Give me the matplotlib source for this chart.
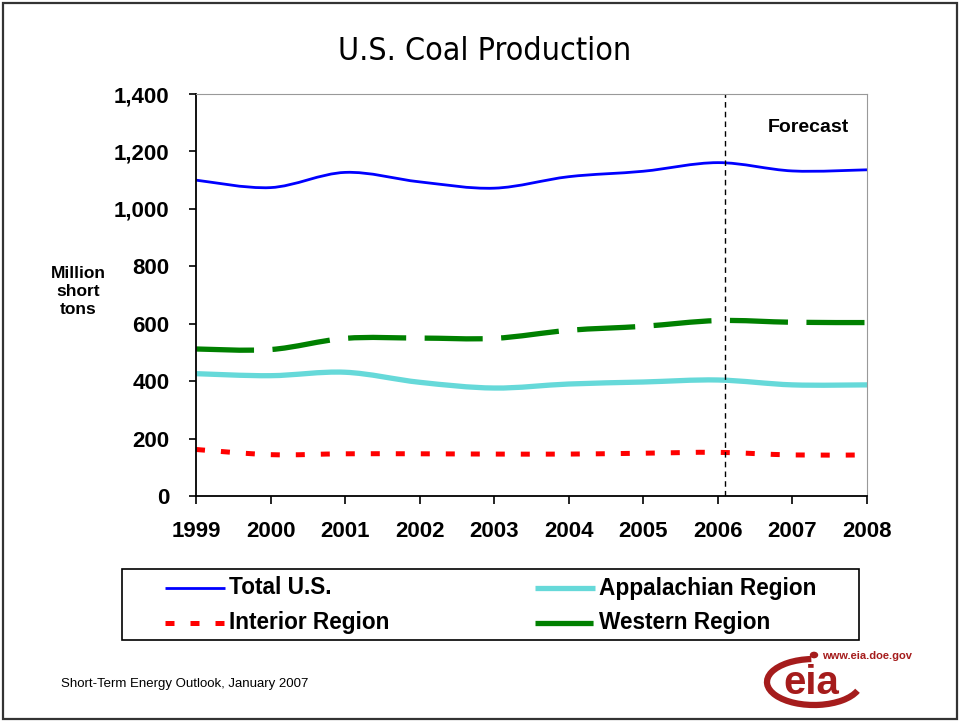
import numpy as np
import matplotlib
matplotlib.use("Agg")
import matplotlib.pyplot as plt
from matplotlib.path import Path
from matplotlib.patches import PathPatch, Rectangle, Arc, Circle
from matplotlib.lines import Line2D

# Data (million short tons)
years = ["1999", "2000", "2001", "2002", "2003", "2004", "2005", "2006", "2007", "2008"]
total_us = [1100, 1074, 1127, 1094, 1072, 1112, 1131, 1161, 1132, 1136]
appalachian = [426, 419, 431, 396, 376, 390, 397, 404, 387, 387]
interior = [162, 144, 147, 147, 146, 146, 149, 152, 143, 143]
western = [512, 510, 549, 550, 549, 577, 591, 611, 605, 604]
forecast_start = 7.1  # just after the 2006 tick

plt.rcParams['font.family'] = ['Liberation Sans', 'DejaVu Sans']

W, H = 960, 721


def fx(px):
    return px / W


def fy(py):
    return 1 - py / H


def smooth_path(x, y):
    # excel-style smoothed line: catmull-rom segments as cubic beziers
    pts = np.column_stack([x, y]).astype(float)
    ext = np.vstack([pts[0], pts, pts[-1]])
    verts = [pts[0]]
    codes = [Path.MOVETO]
    for i in range(len(pts) - 1):
        p0, p1, p2, p3 = ext[i], ext[i + 1], ext[i + 2], ext[i + 3]
        verts += [p1 + (p2 - p0) / 6, p2 - (p3 - p1) / 6, p2]
        codes += [Path.CURVE4] * 3
    return Path(verts, codes)


fig = plt.figure(figsize=(9.6, 7.21), dpi=100)
ax = fig.add_axes([fx(196), fy(496), fx(867) - fx(196), fy(94) - fy(496)])

xs = np.arange(len(years))
styles = [
    (total_us, dict(color='#0000FF', lw=2.0, ls='-')),
    (appalachian, dict(color='#66D9D9', lw=3.8, ls='-')),
    (interior, dict(color='#FF0000', lw=3.6, ls=(0, (1.8, 3.2)))),
    (western, dict(color='#008000', lw=3.8, ls=(0, (11, 3.5)))),
]
for vals, st in styles:
    patch = PathPatch(smooth_path(xs, vals), fill=False, edgecolor=st['color'],
                      lw=st['lw'], linestyle=st['ls'], capstyle='butt', joinstyle='round')
    ax.add_patch(patch)

ax.axvline(forecast_start, color='black', lw=1, ls=(0, (4, 3)))
ax.text(8.22, 1285, "Forecast", fontsize=14, fontweight='bold', ha='center', va='center')

ax.set_xlim(0, len(years) - 1)
ax.set_ylim(0, 1400)
ax.set_xticks(xs)
ax.set_xticklabels(years)
ax.set_yticks(np.arange(0, 1401, 200))
ax.set_yticklabels([f"{v:,}" for v in range(0, 1401, 200)])
ax.tick_params(axis='both', labelsize=16, width=1.2, direction='out')
ax.tick_params(axis='y', length=5, pad=14)
ax.tick_params(axis='x', length=6, pad=12)
for lab in ax.get_xticklabels() + ax.get_yticklabels():
    lab.set_fontweight('bold')
ax.spines['left'].set_linewidth(1.3)
ax.spines['bottom'].set_linewidth(1.3)
ax.spines['top'].set_color('#999999')
ax.spines['right'].set_color('#999999')

fig.text(fx(485), fy(52), "U.S. Coal Production", fontsize=23, ha='center', va='center',
         family='DejaVu Sans', fontstretch='condensed')
fig.text(fx(78), fy(291), "Million\nshort\ntons", fontsize=12.5, fontweight='bold',
         ha='center', va='center', linespacing=1.25)

# legend box, drawn by hand to match the slide layout
fig.add_artist(Rectangle((fx(122), fy(640)), fx(859) - fx(122), fy(569) - fy(640),
                         transform=fig.transFigure, fill=False, edgecolor='black', lw=1.2))
legend_items = [
    ("Total U.S.", styles[0][1], 165, 588),
    ("Appalachian Region", styles[1][1], 535, 588),
    ("Interior Region", styles[2][1], 165, 623),
    ("Western Region", styles[3][1], 535, 623),
]
for label, st, x0, y0 in legend_items:
    fig.add_artist(Line2D([fx(x0), fx(x0 + 60)], [fy(y0), fy(y0)], transform=fig.transFigure,
                          color=st['color'], lw=st['lw'], linestyle=st['ls'],
                          solid_capstyle='butt', dash_capstyle='butt'))
    fig.text(fx(x0 + 64), fy(y0), label, fontsize=16.3, fontweight='bold', va='center')

fig.text(fx(61), fy(684), "Short-Term Energy Outlook, January 2007", fontsize=9.5, va='center')

# eia logo approximation
red = '#A51C1C'
fig.add_artist(Arc((fx(814), fy(682)), fx(94), 46 / H, theta1=95, theta2=345,
                   transform=fig.transFigure, color=red, lw=4.5))
fig.add_artist(Circle((fx(814), fy(655)), 3.5 / W, transform=fig.transFigure, color=red))
fig.text(fx(811), fy(683), "eia", fontsize=29, fontweight='bold', color=red,
         ha='center', va='center')
fig.text(fx(822), fy(656), "www.eia.doe.gov", fontsize=8, fontweight='bold', color=red,
         va='center')

# slide border
fig.add_artist(Rectangle((fx(3), fy(719)), fx(957) - fx(3), fy(3) - fy(719),
                         transform=fig.transFigure, fill=False, edgecolor='#333333', lw=1.6))

fig.savefig("out.png", dpi=100)
